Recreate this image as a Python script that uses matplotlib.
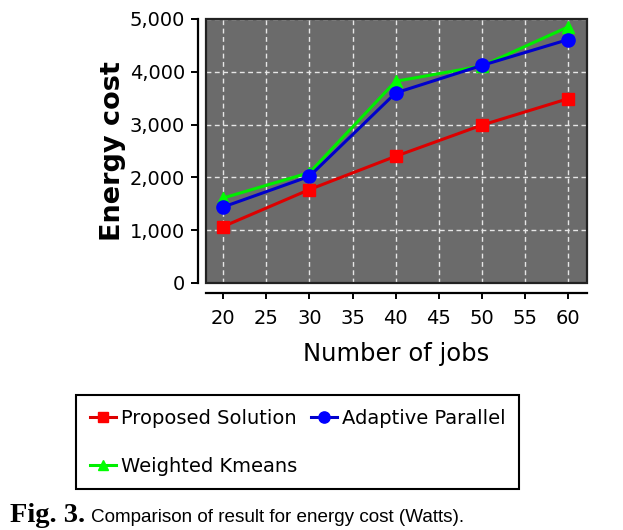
import matplotlib
matplotlib.use("Agg")
import matplotlib.pyplot as plt
from matplotlib.patches import Rectangle
from matplotlib.ticker import StrMethodFormatter

# data
jobs = [20, 30, 40, 50, 60]
proposed = [1070, 1770, 2400, 2990, 3490]
adaptive = [1440, 2020, 3600, 4120, 4610]
weighted = [1610, 2090, 3820, 4110, 4850]
series_names = ["Proposed Solution", "Adaptive Parallel", "Weighted Kmeans"]
x_ticks = [20, 25, 30, 35, 40, 45, 50, 55, 60]
y_ticks = [0, 1000, 2000, 3000, 4000, 5000]

plt.rcParams['font.family'] = ['DejaVu Sans']

fig = plt.figure(figsize=(6.23, 5.30), dpi=100)
W, H = 623, 530
ax = fig.add_axes([206 / W, 1 - 283 / H, (587 - 206) / W, (283 - 19) / H])
ax.set_facecolor('#6b6b6b')

lw = 2.2
g, = ax.plot(jobs, weighted, color='#00ee00', lw=lw, marker='^', ms=9,
             mfc='#00ff00', mec='#00ff00', label=series_names[2])
b, = ax.plot(jobs, adaptive, color='#0000cc', lw=lw, marker='o', ms=9.5,
             mfc='#0000ff', mec='#0000ff', label=series_names[1])
r, = ax.plot(jobs, proposed, color='#dd0000', lw=lw, marker='s', ms=8.5,
             mfc='#ff0000', mec='#ff0000', label=series_names[0])

ax.set_xlim(18.0, 62.2)
ax.set_ylim(0, 5000)
ax.set_xticks(x_ticks)
ax.set_yticks(y_ticks)
ax.yaxis.set_major_formatter(StrMethodFormatter('{x:,.0f}'))
ax.grid(True, color='#e6e6e6', ls=(0, (3.5, 2.5)), lw=1.0)

# plot border plus detached axis lines (JFreeChart look)
ax.add_patch(Rectangle((0, 0), 1, 1, transform=ax.transAxes, fill=False,
                       edgecolor='#222222', lw=1.6, zorder=5, clip_on=False))
for side in ['top', 'right']:
    ax.spines[side].set_visible(False)
ax.spines['left'].set_position(('outward', 6))
ax.spines['bottom'].set_position(('outward', 7))
ax.spines['left'].set_linewidth(1.6)
ax.spines['bottom'].set_linewidth(1.6)
ax.tick_params(axis='y', length=5, width=1.4, pad=4, labelsize=14)
ax.tick_params(axis='x', length=4, width=1.4, pad=8, labelsize=14)

ax.set_xlabel('Number of jobs', fontsize=17.5, labelpad=10)
ax.set_ylabel('Energy cost', fontsize=19.5, weight='bold', labelpad=3)

fig.legend([r, g, b], [series_names[0], series_names[2], series_names[1]],
           ncol=2, loc='upper left', bbox_to_anchor=(76 / W, 1 - 395 / H),
           borderaxespad=0, fontsize=14, frameon=True, fancybox=False,
           edgecolor='black', framealpha=1, borderpad=0.7,
           handlelength=1.35, handletextpad=0.25, columnspacing=0.7,
           labelspacing=1.5, markerscale=0.85)
fig.legends[0].get_frame().set_linewidth(1.5)

fig.text(10 / W, 1 - 522 / H, 'Fig. 3.', family='Liberation Serif',
         weight='bold', fontsize=20.5, va='baseline')
fig.text(91 / W, 1 - 522 / H, 'Comparison of result for energy cost (Watts).',
         family='Liberation Sans', fontsize=13.6, va='baseline')

fig.savefig('out.png', dpi=100)
